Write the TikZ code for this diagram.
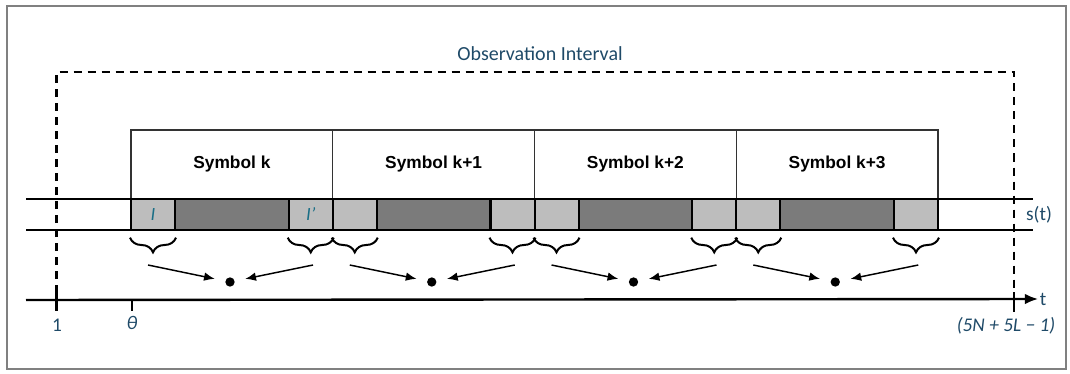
\documentclass[tikz,border=0pt]{standalone}
\usepackage{fontspec}
\setmainfont{Carlito}
\newfontfamily\arialfont{Liberation Sans}
\usetikzlibrary{arrows.meta,decorations.pathreplacing}

\definecolor{labelblue}{HTML}{1F4A68}
\definecolor{guardgray}{HTML}{BDBDBD}
\definecolor{datagray}{HTML}{7B7B7B}

\begin{document}
\begin{tikzpicture}[x=7.5pt, y=-7.5pt,
    symbox/.style={
        draw=black!80,
        line width=.8pt,
        minimum width=151.3pt,
        minimum height=51.75pt,
        font=\arialfont\bfseries\fontsize{13}{15}\selectfont},
    guard/.style={
        draw,
        fill=guardgray,
        line width=1.5pt,
        inner sep=0pt,
        minimum width=33pt,
        minimum height=23.25pt},
    data/.style={
        draw,
        fill=datagray,
        line width=1.5pt,
        inner sep=0pt,
        minimum width=85.3pt,
        minimum height=23.25pt},
    bullet/.style={
        fill=black,
        circle,
        inner sep=0pt,
        minimum size=7pt},
    lab/.style={text=labelblue, inner sep=1pt, font=\fontsize{14.5}{17}\selectfont},
    rail/.style={line width=1.5pt},
    pointer/.style={-{Latex[length=8pt,width=6.5pt]}, line width=1.1pt, shorten >=8pt},
    gbrace/.style={decorate, decoration={brace, mirror, amplitude=11pt}, line width=1.5pt}]

    \useasboundingbox (0,0) rectangle (107,37.4);
    \draw[gray, line width=1.5pt] (0.7,0.6) rectangle (106.6,36.9);

    % observation window
    \node[lab, font=\fontsize{15}{18}\selectfont] (obs) at (54,5.4) {Observation Interval};
    \coordinate (obsL) at (5.65,30.7);
    \coordinate (obsR) at (101.4,30.7);
    \draw[line width=2pt, dash pattern=on 6pt off 4.5pt] (obsL) |- (101.4,7.2) -- (obsR);

    % s(t) rails
    \coordinate (railA) at (2.6,19.9);
    \coordinate (railB) at (2.6,23.0);
    \node[lab] (st) at (103.9,21.5) {s(t)};
    \draw[rail] (railA) -- (103.3,19.9);
    \draw[rail] (railB) -- (103.3,23.0);

    \foreach \i/\txt in {0/Symbol k,1/Symbol k+1,2/Symbol k+2,3/Symbol k+3}{
        \pgfmathsetmacro{\x}{13.1+20.175*\i}
        \node[symbox] (sym\i) at (\x+10.0875,16.45) {\txt};
        \node[guard] (gl\i) at (\x+2.2,21.45) {};
        \node[data] (dt\i) at (\x+10.0875,21.45) {};
        \node[guard] (gr\i) at (\x+17.975,21.45) {};
        \draw[gbrace] ([yshift=-5pt]gl\i.south west) -- ([yshift=-5pt]gl\i.south east);
        \draw[gbrace] ([yshift=-5pt]gr\i.south west) -- ([yshift=-5pt]gr\i.south east);
        \coordinate (fl\i) at (\x+1.7,26.5);
        \coordinate (fr\i) at (\x+18.2,26.5);
        \node[bullet] (dot\i) at (\x+9.9,28.2) {};
        \draw[pointer] (fl\i) -- (dot\i);
        \draw[pointer] (fr\i) -- (dot\i);
    }

    \node[lab, font=\itshape\fontsize{14}{16}\selectfont, text=labelblue!80!cyan] (cpA) at (gl0) {I};
    \node[lab, font=\itshape\fontsize{14}{16}\selectfont, text=labelblue!80!cyan] (cpB) at (gr0) {I'};

    % time axis
    \coordinate (t0) at (2.6,30.0);
    \node[lab] (tlab) at (104.3,29.9) {t};
    \draw[line width=1.8pt, -{Latex[length=10pt,width=8pt]}] (t0) -- (tlab.west);
    \draw[line width=1.8pt] (5.65,29.3) -- (5.65,31.1);
    \draw[line width=1.8pt] (13.2,30.0) -- (13.2,31.1);
    \draw[line width=1.8pt] (101.4,29.2) -- (101.4,31.2);

    \node[lab] (one) at (5.7,32.5) {1};
    \node[lab, font=\itshape\fontsize{14.5}{17}\selectfont] (theta) at (13.2,32.3) {θ};
    \node[lab, font=\itshape\fontsize{14.5}{17}\selectfont] (end) at (100.6,32.6) {(5N + 5L − 1)};
\end{tikzpicture}
\end{document}
